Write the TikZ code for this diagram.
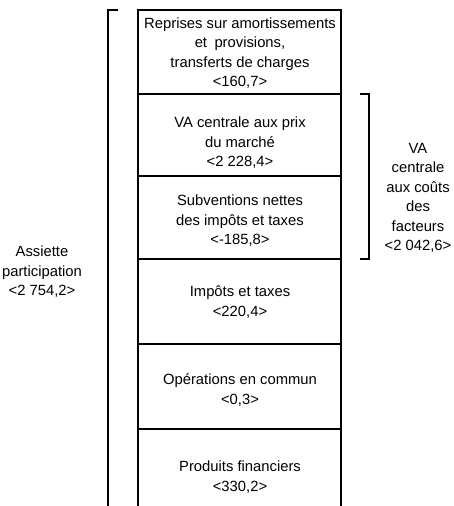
\documentclass[tikz,border=0pt]{standalone}
\usepackage{fontspec}
\setmainfont{Liberation Sans}
\begin{document}
\begin{tikzpicture}[x=1pt,y=-1pt]
\tikzset{
  txt/.style={font=\fontsize{14.8}{19.5}\selectfont, align=center, inner sep=0pt},
  frame/.style={line width=1.4pt},
  brk/.style={line width=1.8pt}
}
\useasboundingbox (0,0) rectangle (454,506);
% frame coordinates
\coordinate (tl) at (138,10);
\coordinate (tr) at (341,10);
\coordinate (bl) at (138,506);
\coordinate (br) at (341,506);
\draw[frame] (bl) -- (tl) -- (tr) -- (br);
% dividers
\foreach \y/\n in {94/d1,176/d2,259/d3,344/d4,429/d5}{
  \coordinate (\n l) at (138,\y);
  \coordinate (\n r) at (341,\y);
  \draw[frame] (\n l) -- (\n r);
}
% box texts
\node[txt] (t1) at (240,53) {Reprises sur amortissements\\et\enspace provisions,\\transferts de charges\\<160,7>};
\node[txt] (t2) at (240,143) {VA centrale aux prix\\du marché\\<2 228,4>};
\node[txt] (t3) at (240,221) {Subventions nettes\\des impôts et taxes\\<-185,8>};
\node[txt] (t4) at (240,302) {Impôts et taxes\\<220,4>};
\node[txt] (t5) at (240,390) {Opérations en commun\\<0,3>};
\node[txt] (t6) at (240,477) {Produits financiers\\<330,2>};
% left bracket
\coordinate (lb0) at (118,10);
\coordinate (lb1) at (108,10);
\coordinate (lb2) at (108,506);
\draw[brk] (lb0) -- (lb1) -- (lb2);
\node[txt] (lt) at (42,272) {Assiette\\participation\\<2 754,2>};
% right bracket
\coordinate (rb0) at (360,94);
\coordinate (rb1) at (369,94);
\coordinate (rb2) at (369,259);
\coordinate (rb3) at (360,259);
\draw[brk] (rb0) -- (rb1) -- (rb2) -- (rb3);
\node[txt] (rt) at (418,198) {VA\\centrale\\aux coûts\\des\\facteurs\\<2 042,6>};
\end{tikzpicture}
\end{document}
